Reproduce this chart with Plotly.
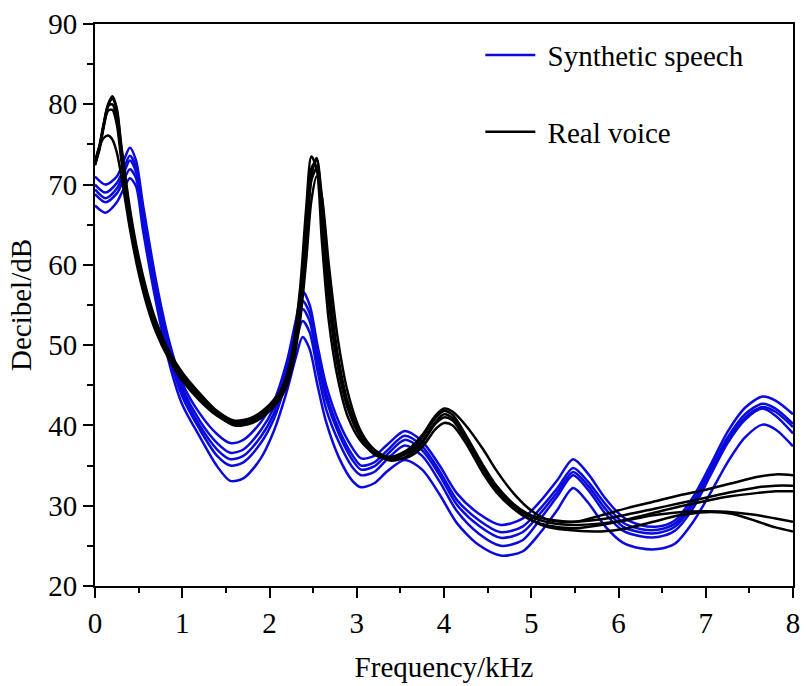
import plotly.graph_objects as go

# ---------------- data ----------------
x_syn = [0, 0.12, 0.25, 0.33, 0.4, 0.47, 0.55, 0.7, 0.85, 1.0, 1.2, 1.4, 1.55, 1.7, 1.9, 2.05,
         2.2, 2.3, 2.38, 2.46, 2.55, 2.65, 2.8, 2.95, 3.05, 3.2, 3.35, 3.55, 3.75, 3.95, 4.15,
         4.4, 4.65, 4.9, 5.1, 5.3, 5.48, 5.65, 5.85, 6.05, 6.25, 6.45, 6.65, 6.85, 7.05, 7.25,
         7.45, 7.65, 7.8, 8.0]

syn_1 = [71.0, 70.0, 71.0, 73.0, 74.6, 73.0, 67.5, 58.0, 50.5, 45.3, 41.5, 38.9, 37.8, 38.2, 40.4, 43.0,
         48.0, 53.0, 56.7, 55.0, 50.0, 45.0, 40.3, 37.2, 35.9, 36.2, 37.6, 39.3, 38.0, 35.0, 31.5,
         29.0, 27.6, 28.4, 30.5, 33.2, 35.8, 34.0, 30.9, 28.6, 27.6, 27.4, 28.2, 31.0, 35.0, 39.2,
         42.2, 43.6, 43.1, 41.4]
syn_2 = [70.0, 69.0, 70.2, 72.0, 73.6, 72.2, 66.5, 57.2, 49.8, 44.7, 40.6, 37.8, 36.6, 37.0, 39.4, 42.2,
         47.2, 52.2, 55.5, 54.0, 49.0, 44.0, 39.4, 36.3, 35.0, 35.4, 36.9, 38.7, 37.4, 34.3, 30.7,
         28.2, 26.7, 27.4, 29.6, 32.2, 34.7, 33.0, 30.2, 27.9, 27.1, 27.0, 27.8, 30.5, 34.5, 38.5,
         41.4, 42.7, 42.1, 40.2]
syn_3 = [69.4, 68.3, 69.5, 71.4, 73.0, 71.6, 65.8, 56.6, 49.3, 44.2, 40.0, 37.0, 35.8, 36.2, 38.6, 41.5,
         46.5, 51.4, 54.5, 53.0, 48.0, 43.2, 38.8, 35.7, 34.5, 34.9, 36.4, 38.2, 36.9, 33.8, 30.1,
         27.5, 26.0, 26.7, 29.0, 31.7, 34.2, 32.5, 29.6, 27.4, 26.7, 26.6, 27.4, 30.1, 34.1, 38.1,
         41.0, 42.3, 41.7, 39.8]
syn_4 = [68.8, 67.8, 68.9, 70.6, 71.9, 70.8, 65.2, 56.0, 48.7, 43.6, 39.5, 36.2, 35.0, 35.4, 37.8, 40.8,
         45.8, 50.3, 53.0, 51.6, 46.8, 42.0, 37.8, 34.8, 33.8, 34.2, 35.8, 37.5, 36.2, 33.0, 29.3,
         26.5, 25.0, 25.7, 28.3, 31.2, 33.8, 32.0, 29.0, 26.9, 26.2, 26.1, 26.9, 29.6, 33.7, 37.8,
         40.7, 42.1, 41.2, 39.0]
syn_5 = [67.4, 66.5, 67.8, 69.5, 70.8, 69.8, 64.3, 55.3, 47.8, 42.6, 38.6, 34.9, 33.1, 33.4, 35.9, 39.3,
         44.3, 48.4, 51.0, 49.5, 45.0, 40.4, 35.9, 33.1, 32.3, 32.8, 34.3, 35.7, 34.5, 31.4, 27.8,
         25.1, 23.8, 24.3, 26.6, 29.5, 32.2, 30.4, 27.4, 25.4, 24.7, 24.6, 25.3, 27.9, 31.5, 35.4,
         38.5, 40.1, 39.5, 37.4]

x_real = [0, 0.05, 0.1, 0.15, 0.2, 0.25, 0.3, 0.4, 0.5, 0.6, 0.7, 0.85, 1.0, 1.2, 1.4, 1.6, 1.8,
          2.0, 2.15, 2.25, 2.35, 2.42, 2.48, 2.54, 2.6, 2.68, 2.78, 2.9, 3.05, 3.2, 3.4, 3.6,
          3.75, 3.9, 4.0, 4.1, 4.25, 4.45, 4.6, 4.8, 5.0, 5.2, 5.5, 5.8, 6.1, 6.4, 6.7, 7.0,
          7.3, 7.6, 7.8, 8.0]

real_1 = [72.4, 74.5, 77.5, 80.0, 81.0, 79.5, 75.0, 67.0, 61.0, 56.5, 53.0, 49.2, 46.6, 44.0, 41.8, 40.6, 41.0,
          42.6, 44.8, 48.5, 57.0, 67.0, 73.5, 72.0, 63.0, 53.0, 46.0, 41.0, 38.0, 36.6, 36.1, 37.1,
          38.8, 41.2, 42.1, 41.7, 40.0, 37.0, 34.4, 31.5, 29.4, 28.2, 28.0, 28.8, 29.7, 30.5, 31.3, 32.0,
          32.8, 33.6, 33.9, 33.8]
real_2 = [72.6, 74.3, 77.2, 79.8, 80.7, 79.2, 74.6, 66.5, 60.5, 56.0, 52.6, 48.9, 46.3, 43.7, 41.6, 40.4, 40.8,
          42.4, 44.6, 48.0, 55.5, 64.5, 72.0, 73.0, 66.0, 55.5, 47.5, 42.0, 38.4, 36.4, 35.8, 36.8,
          38.5, 40.9, 41.8, 41.3, 38.8, 35.0, 32.5, 30.2, 28.8, 28.3, 28.0, 28.3, 28.9, 29.6, 30.3, 31.0,
          31.7, 32.3, 32.5, 32.5]
real_3 = [72.8, 74.8, 77.6, 79.8, 80.0, 78.3, 73.8, 65.8, 60.0, 55.6, 52.3, 48.7, 46.0, 43.5, 41.4, 40.2, 40.6,
          42.2, 44.3, 47.5, 54.5, 63.0, 71.0, 73.3, 68.5, 58.0, 49.0, 42.8, 38.8, 36.7, 36.0, 36.6,
          38.0, 40.4, 41.4, 40.9, 38.5, 34.5, 32.0, 30.0, 28.6, 27.9, 27.6, 27.8, 28.2, 28.8, 29.2, 29.3,
          29.2, 28.8, 28.4, 28.0]
real_4 = [72.5, 74.6, 77.3, 79.2, 79.3, 77.5, 73.2, 65.3, 59.5, 55.2, 52.0, 48.5, 45.8, 43.3, 41.3, 40.0, 40.3,
          41.8, 43.8, 46.8, 53.0, 60.5, 68.0, 71.0, 68.5, 60.0, 51.0, 44.0, 39.2, 37.0, 35.8, 36.1,
          37.3, 39.5, 40.3, 40.0, 37.8, 34.0, 31.7, 29.6, 28.2, 27.5, 27.2, 27.6, 28.3, 29.1, 29.9, 30.6,
          31.2, 31.6, 31.8, 31.8]
real_5 = [72.9, 74.7, 75.8, 76.1, 75.6, 74.0, 71.2, 64.5, 59.0, 54.8, 51.6, 48.2, 45.6, 43.1, 41.2, 40.1, 40.5,
          42.0, 44.0, 47.2, 54.0, 62.5, 70.5, 72.0, 66.0, 56.0, 48.0, 42.5, 38.6, 36.5, 35.6, 36.3,
          37.8, 40.2, 41.0, 40.6, 38.2, 34.8, 32.3, 29.8, 28.2, 27.3, 26.9, 26.8, 27.2, 28.0, 28.8, 29.2,
          29.0, 28.0, 27.3, 26.8]

syn_series = [syn_1, syn_2, syn_3, syn_4, syn_5]
real_series = [real_1, real_2, real_3, real_4, real_5]

BLUE = "#0A0ADC"
BLACK = "#000000"
FONT = "Liberation Serif, Times New Roman, serif"
FS = 29

fig = go.Figure()
for i, ys in enumerate(syn_series):
    fig.add_trace(go.Scatter(
        x=x_syn, y=ys, mode="lines", name="\u00a0Synthetic speech",
        line=dict(color=BLUE, width=2.5, shape="spline", smoothing=0.8),
        legendgroup="syn", showlegend=(i == 0)))
for i, ys in enumerate(real_series):
    fig.add_trace(go.Scatter(
        x=x_real, y=ys, mode="lines", name="\u00a0Real voice",
        line=dict(color=BLACK, width=2.5, shape="spline", smoothing=0.8),
        legendgroup="real", showlegend=(i == 0)))

axis_common = dict(
    showline=True, linecolor="black", linewidth=2, mirror=True,
    ticks="outside", ticklen=10, tickwidth=2, tickcolor="black",
    showgrid=False, zeroline=False,
    tickfont=dict(family=FONT, size=FS, color="black"),
)

fig.update_layout(
    width=808, height=686,
    margin=dict(l=95, r=8, t=17, b=99),
    paper_bgcolor="white", plot_bgcolor="white",
    font=dict(family=FONT, size=FS, color="black"),
    showlegend=True,
    legend=dict(x=0.552, y=0.99, xanchor="left", yanchor="top",
                bgcolor="rgba(0,0,0,0)", borderwidth=0,
                font=dict(family=FONT, size=FS, color="black"),
                tracegroupgap=36, itemwidth=50),
    xaxis=dict(range=[0, 8], dtick=1, tick0=0,
               minor=dict(dtick=0.5, ticks="outside", ticklen=5, tickwidth=2, tickcolor="black"),
               title=dict(text="Frequency/kHz", font=dict(family=FONT, size=FS), standoff=19),
               **axis_common),
    yaxis=dict(range=[20, 90], dtick=10, tick0=20,
               minor=dict(dtick=5, ticks="outside", ticklen=6, tickwidth=2, tickcolor="black"),
               title=dict(text="Decibel/dB", font=dict(family=FONT, size=FS), standoff=8),
               **axis_common),
)

fig.write_html("out.html")
